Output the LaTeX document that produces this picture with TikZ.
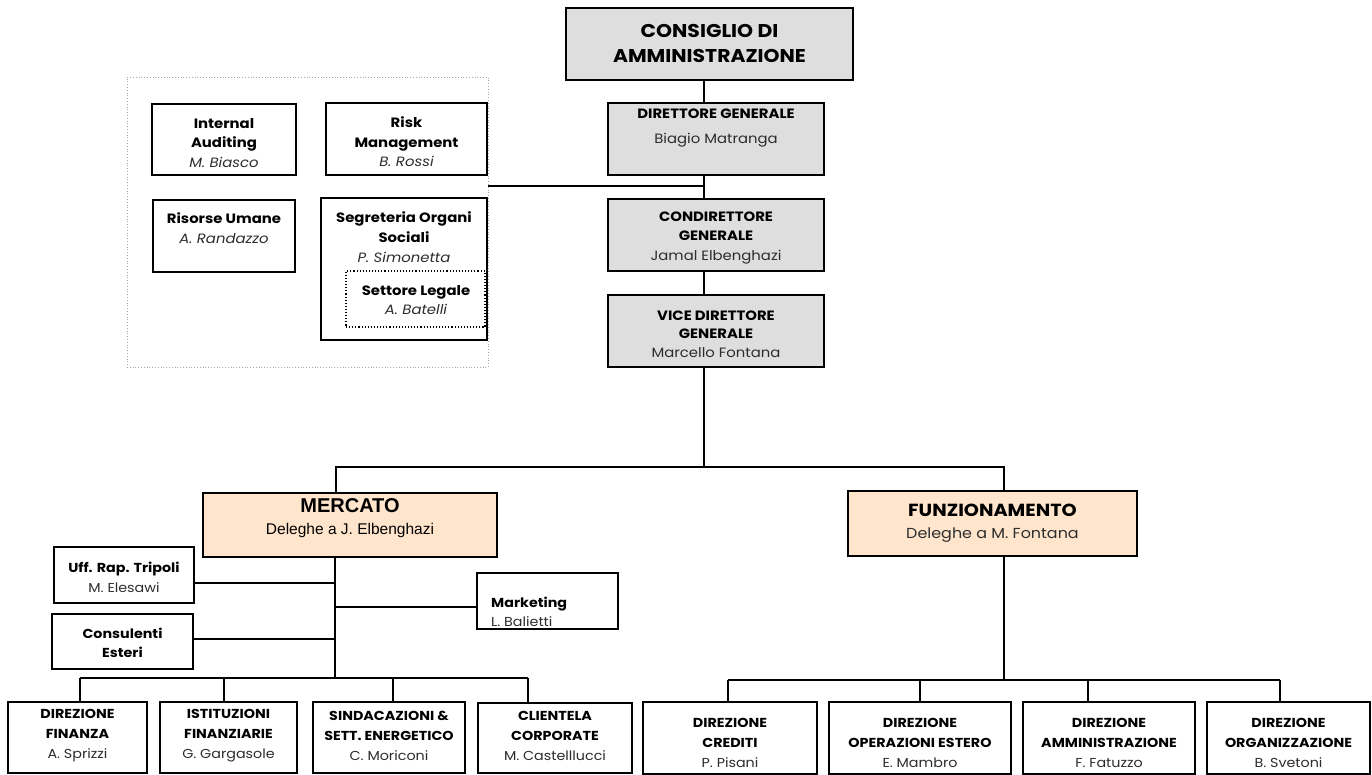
\documentclass[tikz,border=0pt]{standalone}
\usepackage{fontspec}
\newfontfamily\arialfont{Liberation Sans}
\newfontfamily\cgfont{Poppins}[FakeStretch=1.1]
\usetikzlibrary{fit}
\definecolor{boxgray}{RGB}{222,222,222}
\definecolor{peach}{RGB}{255,229,204}
\definecolor{namegray}{RGB}{45,45,45}
\tikzset{
  bx/.style={draw=black, line width=1.8pt, rectangle, inner sep=0pt},
  gbx/.style={bx, fill=boxgray},
  pbx/.style={bx, fill=peach},
  wbx/.style={bx, fill=white},
  conn/.style={line width=1.6pt, draw=black},
  txt/.style={align=center, inner sep=0pt, text=black},
  cgt/.style={txt, font=\cgfont\fontsize{13.5}{19.5}\selectfont},
  cgb/.style={txt, font=\cgfont\fontsize{13}{20}\selectfont},
}
\begin{document}
\begin{tikzpicture}[x=1pt,y=-1pt]
\useasboundingbox (0,0) rectangle (1372,775);
\fill[white] (0,0) rectangle (1372,775);

% ---- top chain
\node[gbx, fit={(566,8) (853,80)}] (cda) {};
\node[txt, font=\cgfont\fontsize{18.5}{25}\selectfont\bfseries] (cdat) at (709.5,43) {CONSIGLIO DI\\AMMINISTRAZIONE};
\node[gbx, fit={(608,103) (824,175)}] (dg) {};
\node[cgt] (dgt) at (716,128) {{\bfseries DIRETTORE GENERALE}\\[6pt]\color{namegray}Biagio Matranga};
\node[gbx, fit={(608,199) (824,271)}] (cdg) {};
\node[cgt] (cdgt) at (716,238) {{\bfseries CONDIRETTORE}\\{\bfseries GENERALE}\\\color{namegray}Jamal Elbenghazi};
\node[gbx, fit={(608,295) (824,367)}] (vdg) {};
\node[cgt, font=\cgfont\fontsize{13.5}{18.5}\selectfont] (vdgt) at (716,334) {{\bfseries VICE DIRETTORE}\\{\bfseries GENERALE}\\\color{namegray}Marcello Fontana};

% ---- staff group
\node[draw=gray!70, dotted, line width=0.8pt, inner sep=0pt, fit={(127,77) (488,367)}] (staff) {};
\node[wbx, fit={(152,104) (296,175)}] (ia) {};
\node[cgt] (iat) at (224,143) {{\bfseries Internal}\\{\bfseries Auditing}\\\itshape\color{namegray}M. Biasco};
\node[wbx, fit={(326,103) (487,175)}] (rm) {};
\node[cgt] (rmt) at (406.5,142) {{\bfseries Risk}\\{\bfseries Management}\\\itshape\color{namegray}B. Rossi};
\node[wbx, fit={(153,200) (295,272)}] (ru) {};
\node[cgt, font=\cgfont\fontsize{13.5}{20}\selectfont] (rut) at (224,228.5) {{\bfseries Risorse Umane}\\\itshape\color{namegray}A. Randazzo};
\node[wbx, fit={(321,198) (487,340)}] (seg) {};
\node[cgt, font=\cgfont\fontsize{13.5}{20}\selectfont] (segt) at (404,237.5) {{\bfseries Segreteria Organi}\\{\bfseries Sociali}\\\itshape\color{namegray}P. Simonetta};
\node[draw=black, dotted, line width=1.1pt, inner sep=0pt, fit={(346,271) (485,327)}] (sl) {};
\node[cgt] (slt) at (416,300) {{\bfseries Settore Legale}\\\itshape\color{namegray}A. Batelli};

% ---- divisions
\node[pbx, fit={(203,493) (497,557)}] (mer) {};
\node[txt, font=\arialfont\fontsize{15.5}{22}\selectfont] (mert) at (350,518.5) {{\fontsize{20}{22}\selectfont\bfseries MERCATO}\\Deleghe a J. Elbenghazi};
\node[pbx, fit={(848,491) (1137,556)}] (fun) {};
\node[txt, font=\cgfont\fontsize{14.5}{22}\selectfont] (funt) at (992.5,523.5) {{\fontsize{17.5}{22}\selectfont\bfseries FUNZIONAMENTO}\\\color{namegray}Deleghe a M. Fontana};

% ---- mercato staff
\node[wbx, fit={(54,547) (194,603)}] (uff) {};
\node[cgt, font=\cgfont\fontsize{13}{20}\selectfont] (ufft) at (124,577.5) {{\bfseries Uff. Rap. Tripoli}\\\color{namegray}M. Elesawi};
\node[wbx, fit={(477,573) (618,629)}] (mkt) {};
\node[cgt, align=left, anchor=west, font=\cgfont\fontsize{13}{19}\selectfont] (mktt) at (491,612) {{\bfseries Marketing}\\\color{namegray}L. Balietti};
\node[wbx, fit={(52,614) (193,669)}] (cons) {};
\node[cgt, font=\cgfont\fontsize{13}{19}\selectfont] (const) at (122.5,643) {{\bfseries Consulenti}\\{\bfseries Esteri}};

% ---- bottom row left
\node[wbx, fit={(8,702) (147,773)}] (fin) {};
\node[cgb] (fint) at (77.5,735.5) {{\bfseries DIREZIONE}\\{\bfseries FINANZA}\\\color{namegray}A. Sprizzi};
\node[wbx, fit={(160,702) (297,773)}] (ist) {};
\node[cgb] (istt) at (228.5,735.5) {{\bfseries ISTITUZIONI}\\{\bfseries FINANZIARIE}\\\color{namegray}G. Gargasole};
\node[wbx, fit={(313,702) (465,773)}] (sin) {};
\node[cgb] (sint) at (389,735.5) {{\bfseries SINDACAZIONI \&}\\{\bfseries SETT. ENERGETICO}\\\color{namegray}C. Moriconi};
\node[wbx, fit={(478,703) (632,773)}] (cli) {};
\node[cgb] (clit) at (555,735.5) {{\bfseries CLIENTELA}\\{\bfseries CORPORATE}\\\color{namegray}M. Castelllucci};

% ---- bottom row right
\node[wbx, fit={(643,702) (817,774)}] (cre) {};
\node[cgb] (cret) at (730,742.5) {{\bfseries DIREZIONE}\\{\bfseries CREDITI}\\\color{namegray}P. Pisani};
\node[wbx, fit={(829,702) (1011,774)}] (ope) {};
\node[cgb] (opet) at (920,742.5) {{\bfseries DIREZIONE}\\{\bfseries OPERAZIONI ESTERO}\\\color{namegray}E. Mambro};
\node[wbx, fit={(1023,702) (1195,774)}] (amm) {};
\node[cgb] (ammt) at (1109,742.5) {{\bfseries DIREZIONE}\\{\bfseries AMMINISTRAZIONE}\\\color{namegray}F. Fatuzzo};
\node[wbx, fit={(1207,702) (1370,774)}] (org) {};
\node[cgb] (orgt) at (1288.5,742.5) {{\bfseries DIREZIONE}\\{\bfseries ORGANIZZAZIONE}\\\color{namegray}B. Svetoni};

% ---- connectors
\coordinate (vx) at (704,0);
\coordinate (stj) at (704,186);
\coordinate (j1) at (704,467);
\coordinate (mx) at (336,467);
\coordinate (fx) at (1004,467);
\draw[conn] (cda.south -| vx) -- (dg.north -| vx);
\draw[conn] (dg.south -| vx) -- (cdg.north -| vx);
\draw[conn] (cdg.south -| vx) -- (vdg.north -| vx);
\draw[conn] (vdg.south -| vx) -- (j1);
\draw[conn] (staff.east |- stj) -- (stj);
\draw[conn] (mer.north -| mx) -- (mx) -- (fx) -- (fun.north -| fx);

\coordinate (mb) at (335,678);
\coordinate (uj) at (335,583);
\coordinate (mj) at (335,607);
\coordinate (cj) at (335,639);
\draw[conn] (mer.south -| mb) -- (mb);
\draw[conn] (uff.east |- uj) -- (uj);
\draw[conn] (mj) -- (mkt.west |- mj);
\draw[conn] (cons.east |- cj) -- (cj);

\coordinate (lb1) at (80,678);
\coordinate (lb2) at (224,678);
\coordinate (lb3) at (393,678);
\coordinate (lb4) at (528,678);
\draw[conn] (lb1) -- (lb4);
\draw[conn] (lb1) -- (fin.north -| lb1);
\draw[conn] (lb2) -- (ist.north -| lb2);
\draw[conn] (lb3) -- (sin.north -| lb3);
\draw[conn] (lb4) -- (cli.north -| lb4);

\coordinate (fb) at (1004,680);
\coordinate (rb1) at (728,680);
\coordinate (rb2) at (920,680);
\coordinate (rb3) at (1088,680);
\coordinate (rb4) at (1280,680);
\draw[conn] (fun.south -| fb) -- (fb);
\draw[conn] (rb1) -- (rb4);
\draw[conn] (rb1) -- (cre.north -| rb1);
\draw[conn] (rb2) -- (ope.north -| rb2);
\draw[conn] (rb3) -- (amm.north -| rb3);
\draw[conn] (rb4) -- (org.north -| rb4);
\end{tikzpicture}
\end{document}
